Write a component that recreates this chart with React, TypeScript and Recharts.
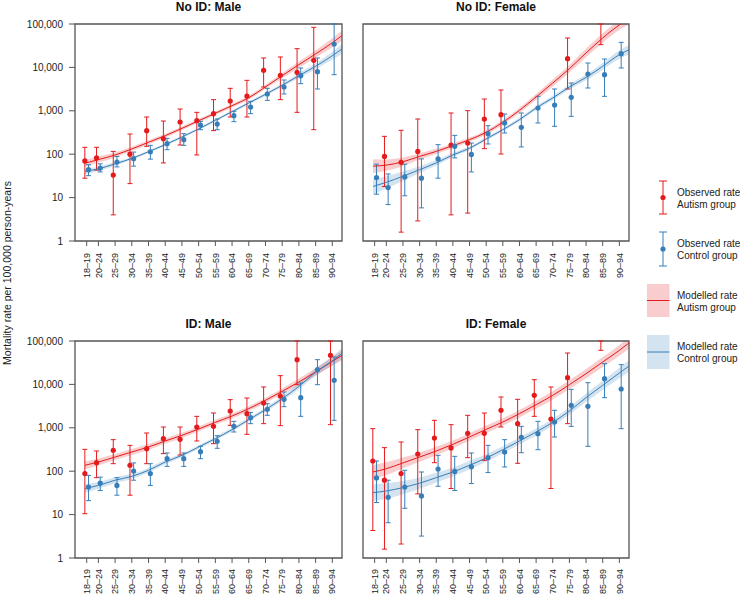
import React from "react";
import {
  ComposedChart,
  Area,
  Line,
  Scatter,
  ErrorBar,
  XAxis,
  YAxis,
  ReferenceArea,
} from "recharts";

const RED = "#e41a1c";
const BLUE = "#377eb8";
const FRAME = "#555555";
const FONT = "'Liberation Sans', Arial, Helvetica, sans-serif";

const AGE_LABELS = [
  "18–19", "20–24", "25–29", "30–34", "35–39", "40–44", "45–49", "50–54",
  "55–59", "60–64", "65–69", "70–74", "75–79", "80–84", "85–89", "90–94",
];
const AGE_MIDS = [19, 22.5, 27.5, 32.5, 37.5, 42.5, 47.5, 52.5, 57.5, 62.5, 67.5, 72.5, 77.5, 82.5, 87.5, 92.5];
const FIT_AGES = [18.5, 22.5, 27.5, 32.5, 37.5, 42.5, 47.5, 52.5, 57.5, 62.5, 67.5, 72.5, 77.5, 82.5, 87.5, 92.5, 95.4];
const Y_TICKS = [1, 10, 100, 1000, 10000, 100000];
const Y_MAX = 100000;
const X_DOMAIN = [15.5, 95.4];

// observed rate per age band: [rate, lower CI, upper CI], null = not shown
type Obs = [number, number, number] | null;
// modelled rate: [fit, lower, upper] at FIT_AGES
type Fit = [number, number, number];

// ---- No ID: Male
const noIdMaleAutism: Obs[] = [
  [70, 28, 144], [82, 43, 144], [33, 4, 116], [100, 21, 292], [349, 152, 720], [228, 63, 582],
  [552, 163, 1100], [593, 96, 922], [859, 349, 1805], [1683, 720, 3296], [2193, 720, 5035],
  [8550, 3535, 16480], [6560, 1805, 17380], [7690, 922, 27000], [14550, 367, 83800], null,
];
const noIdMaleControl: Obs[] = [
  [44, 32, 57], [48, 39, 60], [66, 51, 89], [79, 53, 112], [114, 77, 160], [175, 127, 232],
  [216, 160, 297], [471, 367, 572], [497, 367, 647], [773, 562, 972], [1224, 859, 1652],
  [2440, 1742, 3296], [3535, 2440, 5128], [6450, 4220, 9690], [7980, 3180, 16480], [34600, 6800, 120000],
];
const noIdMaleAutismFit: Fit[] = [
  [62, 52, 74], [75, 64, 88], [96, 84, 109], [132, 118, 148], [188, 169, 209], [267, 243, 294],
  [394, 358, 433], [590, 536, 649], [880, 800, 968], [1313, 1194, 1444], [2000, 1802, 2220],
  [3550, 3170, 3976], [6450, 5609, 7418], [11560, 9797, 13641], [20400, 16721, 24888],
  [37000, 29134, 46990], [54000, 40909, 71280],
];
const noIdMaleControlFit: Fit[] = [
  [40, 34.8, 46], [46, 41.1, 51.5], [60, 54.5, 66], [80, 74.1, 86.4], [114, 106.5, 122], [166, 155, 178],
  [249, 233, 266], [381, 356, 408], [603, 564, 645], [955, 893, 1022], [1513, 1401, 1634],
  [2395, 2197, 2611], [3863, 3512, 4249], [6450, 5708, 7289], [10590, 9051, 12390],
  [18620, 15138, 22903], [26550, 20423, 34515],
];

// ---- No ID: Female
const noIdFemaleAutism: Obs[] = [
  null, [89, 18, 258], [65, 1.6, 355], [116, 2.9, 647], null, [163, 4, 890], [181, 4.4, 1007],
  [647, 134, 1870], [815, 101, 3015], null, null, null, [15900, 3180, 47600], null,
  [180000, 33400, 1000000], null,
];
const noIdFemaleControl: Obs[] = [
  [29, 12, 59], [17, 6.9, 35], [30, 11, 59], [28, 5.8, 78], [78, 28, 166], [152, 82, 272],
  [99, 39, 181], [297, 172, 454], [524, 308, 844], [416, 147, 890], [1160, 524, 2155],
  [1360, 439, 3180], [2044, 746, 4370], [7050, 3350, 12620], [6800, 2155, 15600], [20700, 9690, 37800],
];
const noIdFemaleAutismFit: Fit[] = [
  [53, 36.6, 76.9], [56, 41.5, 75.6], [67, 53.6, 83.8], [89, 75.4, 105], [116, 100.9, 133.4],
  [157, 138.9, 177.4], [216, 192.9, 241.9], [319, 284.8, 357.3], [542, 479.6, 612.5],
  [1025, 891.3, 1178.8], [2080, 1763, 2454], [4370, 3642, 5244], [9350, 7664, 11407],
  [21500, 17200, 26875], [47600, 37188, 60928], [95000, 73077, 123500], [130000, 98485, 171600],
];
const noIdFemaleControlFit: Fit[] = [
  [18, 12, 27], [22.5, 16.3, 31.1], [31, 24.2, 39.7], [44, 36.7, 52.8], [63, 54.8, 72.5],
  [96, 85.7, 107.5], [137, 124.5, 150.7], [224, 205.5, 244.2], [367, 336.7, 400], [625, 568, 687.5],
  [1160, 1045, 1288], [1973, 1762, 2210], [3535, 3101, 4030], [5900, 5043, 6903],
  [10590, 8825, 12708], [19650, 15720, 24563], [25500, 19922, 32640],
];

// ---- ID: Male
const idMaleAutism: Obs[] = [
  [88, 10.5, 319], [157, 71, 292], [303, 149, 533], [137, 28, 394], [331, 149, 759], [562, 254, 1043],
  [542, 236, 1043], [1043, 497, 1837], [1081, 431, 2193], [2440, 1140, 4450], [2118, 707, 4860],
  [3727, 1245, 8710], [5400, 1120, 15900], [37150, 9860, 200000], null, [46700, 1180, 200000],
];
const idMaleControl: Obs[] = [
  [43, 21, 80], [53, 36, 73], [47, 28, 71], [101, 62, 155], [88, 47, 149], [194, 129, 263],
  [194, 129, 263], [282, 194, 374], [488, 337, 659], [1081, 800, 1409], [1713, 1245, 2270],
  [2663, 1937, 3597], [4530, 3070, 6680], [4946, 1837, 10770], [21840, 9860, 37150], [12410, 1486, 42800],
];
const idMaleAutismFit: Fit[] = [
  [137, 112, 167], [163, 136, 196], [212, 180, 250], [277, 237, 324], [361, 309, 422], [497, 428, 577],
  [670, 583, 771], [938, 823, 1069], [1336, 1172, 1523], [1870, 1640, 2132], [2760, 2421, 3146],
  [4300, 3739, 4945], [6920, 5915, 8096], [11360, 9467, 13632], [19300, 15820, 23546],
  [34000, 26984, 42840], [46700, 35923, 60710],
];
const idMaleControlFit: Fit[] = [
  [40, 32, 50], [47, 39.2, 56.4], [62, 53, 72.5], [76, 66.1, 87.4], [105, 92.9, 118.7],
  [163, 145.5, 182.6], [232, 211, 255], [361, 328, 397], [562, 511, 618], [906, 824, 997],
  [1540, 1400, 1694], [2620, 2360, 2908], [4690, 4150, 5300], [9000, 7759, 10440],
  [19000, 15833, 22800], [35000, 27559, 44450], [52000, 39098, 69160],
];

// ---- ID: Female
const idFemaleAutism: Obs[] = [
  [172, 4.3, 955], [62, 1.6, 349], [88, 2.1, 471], [249, 30, 906], [582, 157, 1486], [343, 40, 1180],
  [746, 205, 1937], [746, 178, 2193], [2528, 1043, 5128], [1245, 152, 4530], [5600, 1837, 12850],
  [1595, 40, 8710], [14300, 1245, 52900], null, [150000, 61000, 1000000], null,
];
const idFemaleControl: Obs[] = [
  [70, 19, 172], [25, 6.5, 62], [43, 14, 105], [27, 3.2, 96], [112, 45, 232], [99, 36, 220],
  [127, 52, 263], [205, 93, 394], [277, 125, 533], [603, 267, 1081], [733, 313, 1409],
  [1360, 614, 2528], [3296, 1081, 7690], [3126, 374, 10960], [13550, 4946, 30060], [7830, 955, 28500],
];
const idFemaleAutismFit: Fit[] = [
  [96, 66, 139], [114, 81, 160], [155, 117, 206], [212, 166, 271], [292, 234, 365], [416, 338, 512],
  [614, 503, 749], [922, 756, 1125], [1360, 1115, 1659], [2118, 1736, 2584], [3410, 2772, 4194],
  [5600, 4516, 6944], [9860, 7825, 12424], [17670, 13805, 22618], [32800, 25231, 42640],
  [61000, 45865, 81130], [90000, 66176, 122400],
];
const idFemaleControlFit: Fit[] = [
  [32, 20.6, 49.6], [35, 23.3, 52.5], [42, 29.6, 59.6], [53, 39.3, 71.6], [71, 54.6, 92.3],
  [96, 75.6, 122], [137, 109.6, 171], [201, 164.8, 245], [313, 260.8, 376], [497, 414, 596],
  [800, 667, 960], [1336, 1113, 1603], [2440, 2000, 2977], [4946, 3957, 6183], [9520, 7438, 12186],
  [18300, 13864, 24156], [26500, 19485, 36040],
];

// small jitter so the two groups don't sit on top of each other
const JITTER = 0.55;

// error bars are not clipped by recharts, so stop them at the top of the axis
const obsRows = (obs: Obs[], shift: number) =>
  obs.flatMap((o, i) => {
    if (!o) return [];
    const hi = Math.min(o[2], Y_MAX);
    return [{ x: AGE_MIDS[i] + shift, y: o[0], err: [o[0] - o[1], hi - o[0]] }];
  });

const fitRows = (aut: Fit[], ctl: Fit[]) =>
  FIT_AGES.map((x, i) => ({
    x,
    aFit: aut[i][0],
    aBand: [aut[i][1], aut[i][2]],
    cFit: ctl[i][0],
    cBand: [ctl[i][1], ctl[i][2]],
  }));

const PANELS = [
  { title: "No ID: Male", aut: noIdMaleAutism, ctl: noIdMaleControl, autFit: noIdMaleAutismFit, ctlFit: noIdMaleControlFit, col: 0, row: 0 },
  { title: "No ID: Female", aut: noIdFemaleAutism, ctl: noIdFemaleControl, autFit: noIdFemaleAutismFit, ctlFit: noIdFemaleControlFit, col: 1, row: 0 },
  { title: "ID: Male", aut: idMaleAutism, ctl: idMaleControl, autFit: idMaleAutismFit, ctlFit: idMaleControlFit, col: 0, row: 1 },
  { title: "ID: Female", aut: idFemaleAutism, ctl: idFemaleControl, autFit: idFemaleAutismFit, ctlFit: idFemaleControlFit, col: 1, row: 1 },
];

// layout of the 2x2 grid
const COLS = [
  { left: 0, width: 350, mLeft: 15, mRight: 8, showY: true, center: 208.5 },
  { left: 350, width: 300, mLeft: 13, mRight: 21, showY: false, center: 496 },
];
const ROWS = [
  { top: 0, height: 295, mTop: 24, mBottom: 14, xHeight: 40, tickGap: 7, titleY: 11 },
  { top: 300, height: 296, mTop: 41, mBottom: 8, xHeight: 30, tickGap: 6, titleY: 328 },
];

const labelFor = (v: number) => AGE_LABELS[AGE_MIDS.indexOf(v)] ?? "";

const AgeTick = (props: any) => {
  const { x, y, payload } = props;
  return (
    <text
      transform={`translate(${x},${y}) rotate(-90)`}
      textAnchor="end"
      dy="0.35em"
      fontSize={9}
      fontFamily={FONT}
      fill="#222"
    >
      {labelFor(payload.value)}
    </text>
  );
};

const dot = (color: string) => (p: any) =>
  <circle cx={p.cx} cy={p.cy} r={2.6} fill={color} />;

function Panel({ p }: { p: (typeof PANELS)[number] }) {
  const c = COLS[p.col];
  const r = ROWS[p.row];
  return (
    <div style={{ position: "absolute", left: c.left, top: r.top }}>
      <ComposedChart
        width={c.width}
        height={r.height}
        data={fitRows(p.autFit, p.ctlFit)}
        margin={{ top: r.mTop, right: c.mRight, bottom: r.mBottom, left: c.mLeft }}
      >
        <XAxis
          type="number"
          dataKey="x"
          domain={X_DOMAIN}
          allowDataOverflow
          ticks={AGE_MIDS}
          interval={0}
          height={r.xHeight}
          axisLine={false}
          tickLine={{ stroke: FRAME }}
          tickSize={5}
          tickMargin={r.tickGap}
          tick={(t: any) => <AgeTick {...t} />}
        />
        <YAxis
          type="number"
          scale="log"
          domain={[1, Y_MAX]}
          allowDataOverflow
          ticks={Y_TICKS}
          interval={0}
          hide={!c.showY}
          width={60}
          axisLine={false}
          tickLine={{ stroke: FRAME }}
          tickSize={6}
          tickMargin={6}
          tick={{ fontSize: 10, fill: "#222", fontFamily: FONT }}
          tickFormatter={(v: number) => v.toLocaleString("en-US")}
        />
        <Scatter data={obsRows(p.aut, -JITTER)} dataKey="y" shape={dot(RED)} isAnimationActive={false}>
          <ErrorBar dataKey="err" direction="y" width={2.5} stroke={RED} strokeWidth={1} isAnimationActive={false} />
        </Scatter>
        <Scatter data={obsRows(p.ctl, JITTER)} dataKey="y" shape={dot(BLUE)} isAnimationActive={false}>
          <ErrorBar dataKey="err" direction="y" width={2.5} stroke={BLUE} strokeWidth={1} isAnimationActive={false} />
        </Scatter>
        <Area type="monotone" dataKey="aBand" stroke="none" fill={RED} fillOpacity={0.22} isAnimationActive={false} />
        <Area type="monotone" dataKey="cBand" stroke="none" fill={BLUE} fillOpacity={0.22} isAnimationActive={false} />
        <Line type="monotone" dataKey="aFit" stroke={RED} strokeWidth={1} dot={false} isAnimationActive={false} />
        <Line type="monotone" dataKey="cFit" stroke={BLUE} strokeWidth={1} dot={false} isAnimationActive={false} />
        <ReferenceArea
          x1={X_DOMAIN[0]}
          x2={X_DOMAIN[1]}
          y1={1}
          y2={Y_MAX}
          fill="none"
          fillOpacity={0}
          stroke={FRAME}
          strokeWidth={1.3}
          ifOverflow="visible"
        />
      </ComposedChart>
    </div>
  );
}

function Overlay() {
  const txt = { fontFamily: FONT, fontSize: 10, fill: "#222" };
  return (
    <svg
      width={740}
      height={596}
      style={{ position: "absolute", left: 0, top: 0, pointerEvents: "none" }}
    >
      {PANELS.map((p) => (
        <text
          key={p.title}
          x={COLS[p.col].center}
          y={ROWS[p.row].titleY}
          textAnchor="middle"
          fontFamily={FONT}
          fontSize={12}
          fontWeight="bold"
          fill="#111"
        >
          {p.title}
        </text>
      ))}
      <text
        x={11}
        y={273}
        transform="rotate(-90, 11, 273)"
        textAnchor="middle"
        fontFamily={FONT}
        fontSize={10.5}
        fill="#222"
      >
        Mortality rate per 100,000 person-years
      </text>

      {/* legend */}
      <g stroke={RED} strokeWidth={1}>
        <line x1={663} y1={181} x2={663} y2={214} />
        <line x1={659} y1={181} x2={667} y2={181} />
        <line x1={659} y1={214} x2={667} y2={214} />
      </g>
      <circle cx={663} cy={197.5} r={2.6} fill={RED} />
      <text x={677} y={195.5} {...txt}>Observed rate</text>
      <text x={677} y={207.5} {...txt}>Autism group</text>

      <g stroke={BLUE} strokeWidth={1}>
        <line x1={663} y1={232} x2={663} y2={266} />
        <line x1={659} y1={232} x2={667} y2={232} />
        <line x1={659} y1={266} x2={667} y2={266} />
      </g>
      <circle cx={663} cy={249} r={2.6} fill={BLUE} />
      <text x={677} y={247} {...txt}>Observed rate</text>
      <text x={677} y={259} {...txt}>Control group</text>

      <rect x={647} y={284} width={22.5} height={33} fill={RED} fillOpacity={0.22} />
      <line x1={647} y1={300.5} x2={669.5} y2={300.5} stroke={RED} strokeWidth={1} />
      <text x={677} y={298.5} {...txt}>Modelled rate</text>
      <text x={677} y={310.5} {...txt}>Autism group</text>

      <rect x={647} y={335} width={22.5} height={34} fill={BLUE} fillOpacity={0.22} />
      <line x1={647} y1={352} x2={669.5} y2={352} stroke={BLUE} strokeWidth={1} />
      <text x={677} y={350} {...txt}>Modelled rate</text>
      <text x={677} y={362} {...txt}>Control group</text>
    </svg>
  );
}

export default function App() {
  return (
    <div
      style={{
        position: "absolute",
        left: 0,
        top: 0,
        width: 740,
        height: 596,
        background: "#fff",
        overflow: "hidden",
      }}
    >
      {PANELS.map((p) => (
        <Panel key={p.title} p={p} />
      ))}
      <Overlay />
    </div>
  );
}
